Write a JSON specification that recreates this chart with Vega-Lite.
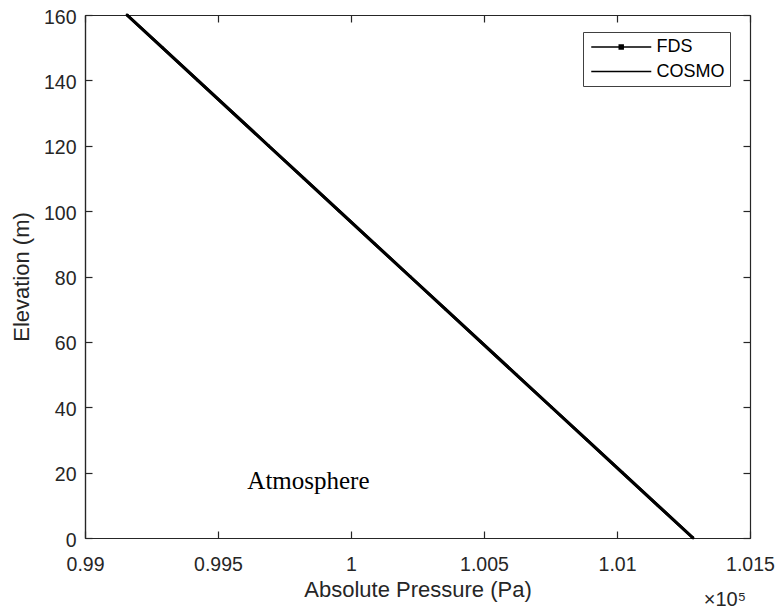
{
  "$schema": "https://vega.github.io/schema/vega-lite/v6.json",
  "width": 665,
  "height": 523,
  "autosize": {"type": "none"},
  "padding": {"left": 85, "top": 15, "right": 27, "bottom": 71},
  "background": "white",
  "config": {
    "view": {"stroke": null},
    "font": "Liberation Sans",
    "axis": {
      "grid": false,
      "domainColor": "#262626",
      "tickColor": "#262626",
      "labelColor": "#262626",
      "titleColor": "#262626",
      "labelFont": "Liberation Sans",
      "titleFont": "Liberation Sans",
      "labelFontSize": 19.5,
      "titleFontSize": 22,
      "titleFontWeight": "normal",
      "labelFlush": false,
      "labelOverlap": false,
      "tickSize": 7,
      "domainWidth": 1.2,
      "tickWidth": 1.2
    }
  },
  "title": {
    "text": "×10⁵",
    "orient": "bottom",
    "anchor": "end",
    "frame": "group",
    "font": "Liberation Sans",
    "fontSize": 20,
    "fontWeight": "normal",
    "color": "#262626",
    "offset": -11,
    "dx": -4
  },
  "datasets": {
    "series": [
      {"source": "FDS", "elevation": 0, "pressure": 101286},
      {"source": "FDS", "elevation": 10, "pressure": 101153},
      {"source": "FDS", "elevation": 20, "pressure": 101020},
      {"source": "FDS", "elevation": 30, "pressure": 100887},
      {"source": "FDS", "elevation": 40, "pressure": 100754},
      {"source": "FDS", "elevation": 50, "pressure": 100621},
      {"source": "FDS", "elevation": 60, "pressure": 100488},
      {"source": "FDS", "elevation": 70, "pressure": 100355},
      {"source": "FDS", "elevation": 80, "pressure": 100222},
      {"source": "FDS", "elevation": 90, "pressure": 100089},
      {"source": "FDS", "elevation": 100, "pressure": 99956},
      {"source": "FDS", "elevation": 110, "pressure": 99823},
      {"source": "FDS", "elevation": 120, "pressure": 99690},
      {"source": "FDS", "elevation": 130, "pressure": 99557},
      {"source": "FDS", "elevation": 140, "pressure": 99424},
      {"source": "FDS", "elevation": 150, "pressure": 99291},
      {"source": "FDS", "elevation": 160, "pressure": 99158},
      {"source": "COSMO", "elevation": 0, "pressure": 101286},
      {"source": "COSMO", "elevation": 20, "pressure": 101020},
      {"source": "COSMO", "elevation": 40, "pressure": 100754},
      {"source": "COSMO", "elevation": 60, "pressure": 100488},
      {"source": "COSMO", "elevation": 80, "pressure": 100222},
      {"source": "COSMO", "elevation": 100, "pressure": 99956},
      {"source": "COSMO", "elevation": 120, "pressure": 99690},
      {"source": "COSMO", "elevation": 140, "pressure": 99424},
      {"source": "COSMO", "elevation": 160, "pressure": 99158}
    ],
    "notes": [
      {"label": "Atmosphere", "pressure": 99840, "elevation": 15}
    ]
  },
  "layer": [
    {
      "data": {"name": "series"},
      "mark": {"type": "line", "strokeWidth": 3},
      "encoding": {
        "x": {
          "field": "pressure", "type": "quantitative",
          "scale": {"domain": [99000, 101500], "nice": false, "zero": false},
          "axis": {
            "orient": "bottom",
            "values": [99000, 99500, 100000, 100500, 101000, 101500],
            "labelExpr": "format(datum.value / 100000, '.4~f')",
            "ticks": false,
            "labelPadding": 17,
            "title": "Absolute Pressure (Pa)",
            "titlePadding": 6
          }
        },
        "y": {
          "field": "elevation", "type": "quantitative",
          "scale": {"domain": [0, 160], "nice": false},
          "axis": {
            "orient": "left",
            "values": [0, 20, 40, 60, 80, 100, 120, 140, 160],
            "ticks": false,
            "labelPadding": 9,
            "labelOffset": 2,
            "title": "Elevation (m)",
            "titlePadding": 10
          }
        },
        "color": {
          "field": "source", "type": "nominal",
          "scale": {"domain": ["FDS", "COSMO"], "range": ["#000000", "#000000"]},
          "legend": {
            "title": null,
            "orient": "none",
            "legendX": 498,
            "legendY": 17,
            "fillColor": "white",
            "strokeColor": "#404040",
            "padding": 5,
            "symbolType": "stroke",
            "symbolSize": 324,
            "symbolStrokeWidth": 1.5,
            "labelFont": "Liberation Sans",
            "labelFontSize": 18,
            "labelColor": "#000000",
            "labelOffset": 48.5,
            "rowPadding": 5.5,
            "encode": {
              "symbols": {
                "update": {
                  "shape": {"signal": "datum.value === 'FDS' ? 'M-0.75,0H5.92M2.36,-0.22H2.8V0.22H2.36Z' : 'M-0.75,0H5.92'"},
                  "fill": {"value": "#000000"}
                }
              }
            }
          }
        }
      }
    },
    {
      "data": {"name": "series"},
      "transform": [{"filter": "datum.source === 'FDS'"}],
      "mark": {"type": "point", "filled": true, "size": 8, "color": "#000000", "opacity": 1},
      "encoding": {
        "x": {
          "field": "pressure", "type": "quantitative",
          "axis": {"orient": "top", "offset": -523, "values": [99000, 99500, 100000, 100500, 101000, 101500], "labels": false, "title": null}
        },
        "y": {
          "field": "elevation", "type": "quantitative",
          "axis": {"orient": "right", "offset": -665, "values": [0, 20, 40, 60, 80, 100, 120, 140, 160], "labels": false, "title": null}
        }
      }
    },
    {
      "data": {"name": "notes"},
      "mark": {"type": "text", "font": "Liberation Serif", "fontSize": 25, "align": "center", "baseline": "alphabetic", "color": "#000000"},
      "encoding": {
        "x": {
          "field": "pressure", "type": "quantitative",
          "axis": {"orient": "bottom", "offset": -523, "values": [99000, 99500, 100000, 100500, 101000, 101500], "labels": false, "title": null}
        },
        "y": {
          "field": "elevation", "type": "quantitative",
          "axis": {"orient": "left", "offset": -665, "values": [0, 20, 40, 60, 80, 100, 120, 140, 160], "labels": false, "title": null}
        },
        "text": {"field": "label"}
      }
    }
  ],
  "resolve": {"axis": {"x": "independent", "y": "independent"}}
}
